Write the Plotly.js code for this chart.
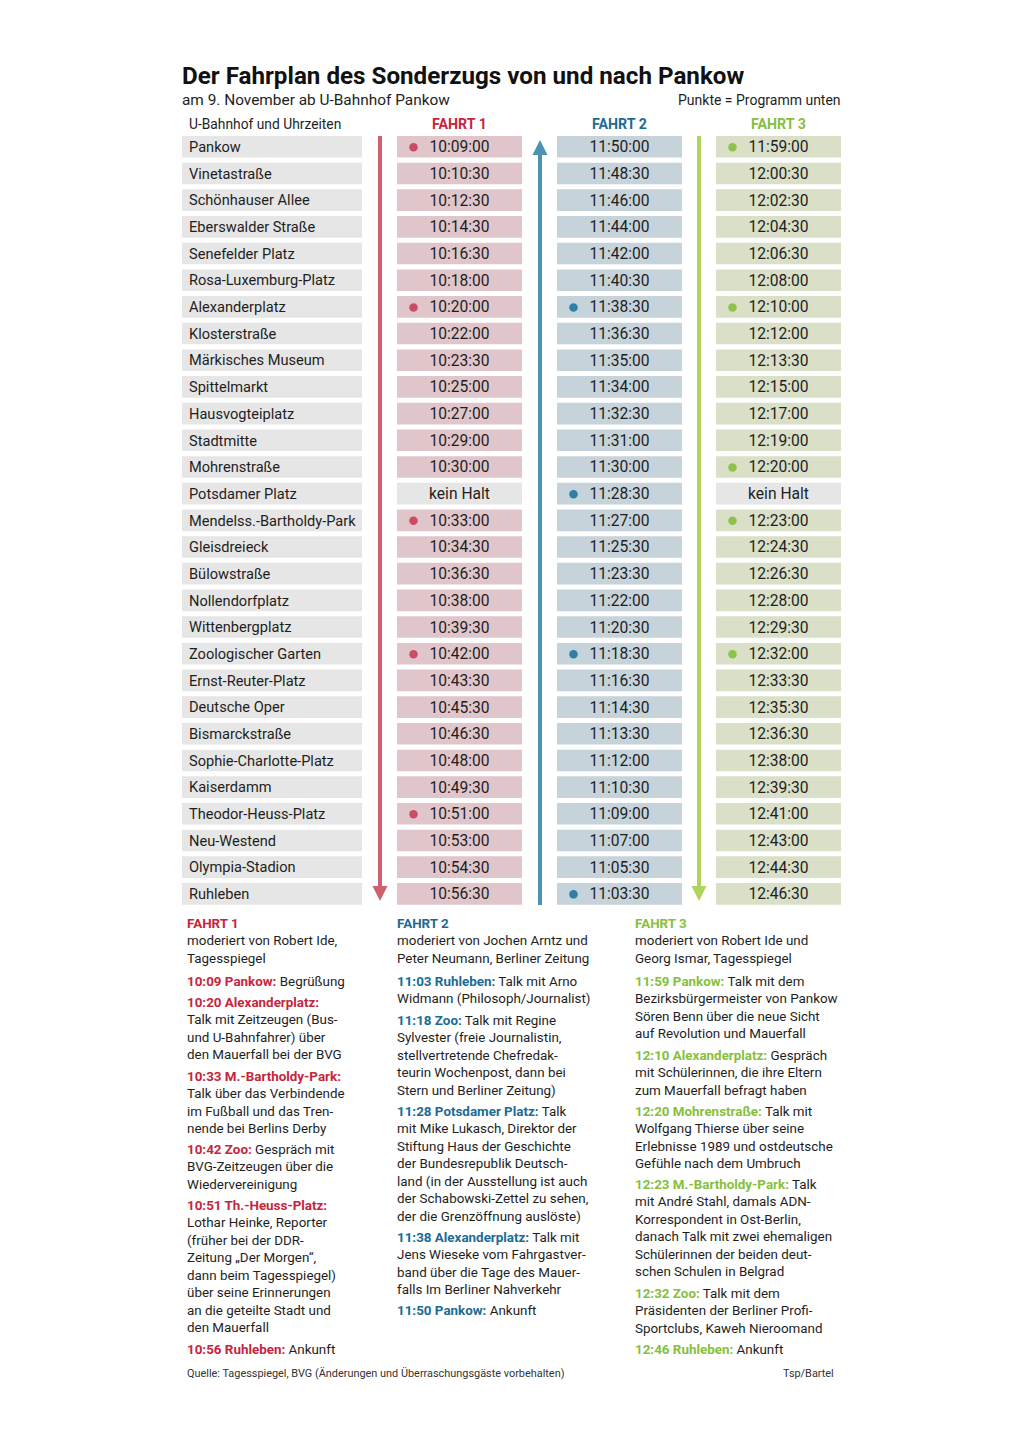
<!DOCTYPE html>
<html><head><meta charset="utf-8">
<script src="https://cdn.plot.ly/plotly-3.0.1.min.js"></script>
<style>html,body{margin:0;padding:0;background:#fff}</style>
</head><body><div id="chart" style="width:1020px;height:1442px"></div>
<script>
// ---------------- DATA ----------------
const stations = ["Pankow","Vinetastraße","Schönhauser Allee","Eberswalder Straße","Senefelder Platz","Rosa-Luxemburg-Platz","Alexanderplatz","Klosterstraße","Märkisches Museum","Spittelmarkt","Hausvogteiplatz","Stadtmitte","Mohrenstraße","Potsdamer Platz","Mendelss.-Bartholdy-Park","Gleisdreieck","Bülowstraße","Nollendorfplatz","Wittenbergplatz","Zoologischer Garten","Ernst-Reuter-Platz","Deutsche Oper","Bismarckstraße","Sophie-Charlotte-Platz","Kaiserdamm","Theodor-Heuss-Platz","Neu-Westend","Olympia-Stadion","Ruhleben"];
const fahrt1 = ["10:09:00","10:10:30","10:12:30","10:14:30","10:16:30","10:18:00","10:20:00","10:22:00","10:23:30","10:25:00","10:27:00","10:29:00","10:30:00","kein Halt","10:33:00","10:34:30","10:36:30","10:38:00","10:39:30","10:42:00","10:43:30","10:45:30","10:46:30","10:48:00","10:49:30","10:51:00","10:53:00","10:54:30","10:56:30"];
const fahrt2 = ["11:50:00","11:48:30","11:46:00","11:44:00","11:42:00","11:40:30","11:38:30","11:36:30","11:35:00","11:34:00","11:32:30","11:31:00","11:30:00","11:28:30","11:27:00","11:25:30","11:23:30","11:22:00","11:20:30","11:18:30","11:16:30","11:14:30","11:13:30","11:12:00","11:10:30","11:09:00","11:07:00","11:05:30","11:03:30"];
const fahrt3 = ["11:59:00","12:00:30","12:02:30","12:04:30","12:06:30","12:08:00","12:10:00","12:12:00","12:13:30","12:15:00","12:17:00","12:19:00","12:20:00","kein Halt","12:23:00","12:24:30","12:26:30","12:28:00","12:29:30","12:32:00","12:33:30","12:35:30","12:36:30","12:38:00","12:39:30","12:41:00","12:43:00","12:44:30","12:46:30"];
const dots1 = ["Pankow","Alexanderplatz","Mendelss.-Bartholdy-Park","Zoologischer Garten","Theodor-Heuss-Platz"];
const dots2 = ["Alexanderplatz","Potsdamer Platz","Zoologischer Garten","Ruhleben"];
const dots3 = ["Pankow","Alexanderplatz","Mohrenstraße","Mendelss.-Bartholdy-Park","Zoologischer Garten"];
const fahrtLabels = ["FAHRT 1","FAHRT 2","FAHRT 3"];
const intro1 = ["FAHRT 1","\nmoderiert von Robert Ide,\nTagesspiegel"];
const intro2 = ["FAHRT 2","\nmoderiert von Jochen Arntz und\nPeter Neumann, Berliner Zeitung"];
const intro3 = ["FAHRT 3","\nmoderiert von Robert Ide und\nGeorg Ismar, Tagesspiegel"];
const notes1 = [
  ["10:09 Pankow:"," Begrüßung"],
  ["10:20 Alexanderplatz:","\nTalk mit Zeitzeugen (Bus-\nund U-Bahnfahrer) über\nden Mauerfall bei der BVG"],
  ["10:33 M.-Bartholdy-Park:","\nTalk über das Verbindende\nim Fußball und das Tren-\nnende bei Berlins Derby"],
  ["10:42 Zoo:"," Gespräch mit\nBVG-Zeitzeugen über die\nWiedervereinigung"],
  ["10:51 Th.-Heuss-Platz:","\nLothar Heinke, Reporter\n(früher bei der DDR-\nZeitung „Der Morgen“,\ndann beim Tagesspiegel)\nüber seine Erinnerungen\nan die geteilte Stadt und\nden Mauerfall"],
  ["10:56 Ruhleben:"," Ankunft"]
];
const notes2 = [
  ["11:03 Ruhleben:"," Talk mit Arno\nWidmann (Philosoph/Journalist)"],
  ["11:18 Zoo:"," Talk mit Regine\nSylvester (freie Journalistin,\nstellvertretende Chefredak-\nteurin Wochenpost, dann bei\nStern und Berliner Zeitung)"],
  ["11:28 Potsdamer Platz:"," Talk\nmit Mike Lukasch, Direktor der\nStiftung Haus der Geschichte\nder Bundesrepublik Deutsch-\nland (in der Ausstellung ist auch\nder Schabowski-Zettel zu sehen,\nder die Grenzöffnung auslöste)"],
  ["11:38 Alexanderplatz:"," Talk mit\nJens Wieseke vom Fahrgastver-\nband über die Tage des Mauer-\nfalls Im Berliner Nahverkehr"],
  ["11:50 Pankow:"," Ankunft"]
];
const notes3 = [
  ["11:59 Pankow:"," Talk mit dem\nBezirksbürgermeister von Pankow\nSören Benn über die neue Sicht\nauf Revolution und Mauerfall"],
  ["12:10 Alexanderplatz:"," Gespräch\nmit Schülerinnen, die ihre Eltern\nzum Mauerfall befragt haben"],
  ["12:20 Mohrenstraße:"," Talk mit\nWolfgang Thierse über seine\nErlebnisse 1989 und ostdeutsche\nGefühle nach dem Umbruch"],
  ["12:23 M.-Bartholdy-Park:"," Talk\nmit André Stahl, damals ADN-\nKorrespondent in Ost-Berlin,\ndanach Talk mit zwei ehemaligen\nSchülerinnen der beiden deut-\nschen Schulen in Belgrad"],
  ["12:32 Zoo:"," Talk mit dem\nPräsidenten der Berliner Profi-\nSportclubs, Kaweh Nieroomand"],
  ["12:46 Ruhleben:"," Ankunft"]
];
const titleText = "Der Fahrplan des Sonderzugs von und nach Pankow";
const subtitleText = "am 9. November ab U-Bahnhof Pankow";
const legendText = "Punkte = Programm unten";
const headerText = "U-Bahnhof und Uhrzeiten";
const sourceText = "Quelle: Tagesspiegel, BVG (Änderungen und Überraschungsgäste vorbehalten)";
const creditText = "Tsp/Bartel";

// ---------------- STYLE / GEOMETRY ----------------
const W = 1020, H = 1442;
const FONT = 'Roboto, "Noto Sans", "DejaVu Sans", sans-serif';
const TXT = '#1e1e1e';
const X = p => p / W, Y = p => 1 - p / H;
const rowTop = 146.8, pitch = 26.68, nRows = stations.length;
const yTopPx = rowTop - pitch / 2, yBotPx = rowTop + (nRows - 1) * pitch + pitch / 2;
const tableL = 182, tableR = 841;
const colStation = {base: 0, w: 180};
const cols = [{base: 215, w: 125}, {base: 375, w: 125}, {base: 534, w: 125}];
const cellFill = ['#e0c6cb', '#c6d3da', '#dadfc8'];
const grayFill = '#e6e6e6';
const dotColor = ['#cc4d63', '#2f7fa6', '#8dc24c'];
const lineColor = ['#d0606f', '#4b93b1', '#afd35b'];
const headColor = ['#c4263d', '#1c6b93', '#86c03c'];
const barW = 0.81;
const rows = stations.map((s, i) => i);
const textShift = 1.6 / pitch;          // nudge cell text to optical centre
const textRows = rows.map(r => r + textShift);
const times = [fahrt1, fahrt2, fahrt3];
const dots = [dots1, dots2, dots3];

const traces = [];
// station cells
traces.push({type: 'bar', orientation: 'h', y: rows, x: rows.map(() => colStation.w), base: colStation.base,
  width: barW, marker: {color: grayFill, line: {width: 0}}, hoverinfo: 'skip', showlegend: false});
// time cells
times.forEach((t, k) => {
  traces.push({type: 'bar', orientation: 'h', y: rows, x: t.map(() => cols[k].w), base: cols[k].base,
    width: barW, marker: {color: t.map(v => v === 'kein Halt' ? grayFill : cellFill[k]), line: {width: 0}},
    hoverinfo: 'skip', showlegend: false});
});
// station names
traces.push({type: 'scatter', mode: 'text', y: textRows, x: rows.map(() => colStation.base + 7), text: stations,
  textposition: 'middle right', textfont: {family: FONT, size: 14.6, color: TXT}, hoverinfo: 'skip', showlegend: false, cliponaxis: false});
// times
times.forEach((t, k) => {
  traces.push({type: 'scatter', mode: 'text', y: textRows, x: rows.map(() => cols[k].base + cols[k].w / 2), text: t,
    textposition: 'middle center', textfont: {family: FONT, size: 15.6, color: TXT}, hoverinfo: 'skip', showlegend: false, cliponaxis: false});
});
// dots
dots.forEach((d, k) => {
  const ys = stations.map((s, i) => d.includes(s) ? i : null).filter(v => v !== null);
  traces.push({type: 'scatter', mode: 'markers', y: ys.map(v => v + 0.02), x: ys.map(() => cols[k].base + 16.5),
    marker: {size: 8.5, color: dotColor[k]}, hoverinfo: 'skip', showlegend: false, cliponaxis: false});
});
// direction arrows (lines + heads)
const arrowX = [198, 358, 517];
const pxRow = p => (p - rowTop) / pitch;
traces.push({type: 'scatter', mode: 'lines', x: [arrowX[0], arrowX[0]], y: [pxRow(136), pxRow(888)],
  line: {color: lineColor[0], width: 4}, hoverinfo: 'skip', showlegend: false, cliponaxis: false});
traces.push({type: 'scatter', mode: 'markers', x: [arrowX[0]], y: [pxRow(901)],
  marker: {symbol: 'arrow-down', size: 15, color: lineColor[0]}, hoverinfo: 'skip', showlegend: false, cliponaxis: false});
traces.push({type: 'scatter', mode: 'lines', x: [arrowX[1], arrowX[1]], y: [pxRow(905), pxRow(153)],
  line: {color: lineColor[1], width: 4}, hoverinfo: 'skip', showlegend: false, cliponaxis: false});
traces.push({type: 'scatter', mode: 'markers', x: [arrowX[1]], y: [pxRow(140)],
  marker: {symbol: 'arrow-up', size: 15, color: lineColor[1]}, hoverinfo: 'skip', showlegend: false, cliponaxis: false});
traces.push({type: 'scatter', mode: 'lines', x: [arrowX[2], arrowX[2]], y: [pxRow(136), pxRow(888)],
  line: {color: lineColor[2], width: 4}, hoverinfo: 'skip', showlegend: false, cliponaxis: false});
traces.push({type: 'scatter', mode: 'markers', x: [arrowX[2]], y: [pxRow(901)],
  marker: {symbol: 'arrow-down', size: 15, color: lineColor[2]}, hoverinfo: 'skip', showlegend: false, cliponaxis: false});

// ---------------- ANNOTATIONS ----------------
const ann = [];
const txt = (text, xp, yp, size, opts = {}) => ann.push(Object.assign({
  text, x: X(xp), y: Y(yp), xref: 'paper', yref: 'paper', showarrow: false,
  xanchor: 'left', yanchor: 'middle', align: 'left', borderpad: 0,
  font: {family: FONT, size, color: TXT}}, opts));

txt('<b>' + titleText + '</b>', 181, 76, 24.2, {font: {family: FONT, size: 24.2, color: '#111'}});
txt(subtitleText, 181, 100, 15.4);
txt(legendText, 842, 100, 14, {xanchor: 'right'});
txt(headerText, 188, 124, 13.8);
fahrtLabels.forEach((l, k) => txt('<b>' + l + '</b>', tableL + cols[k].base + cols[k].w / 2, 124, 14.2,
  {xanchor: 'center', font: {family: FONT, size: 14.2, color: headColor[k]}}));

const LH = 17.5, GAP = 3.5, NFS = 13.4;
const noteCols = [{x: 186, intro: intro1, notes: notes1}, {x: 396, intro: intro2, notes: notes2}, {x: 634, intro: intro3, notes: notes3}];
noteCols.forEach((c, k) => {
  const addPara = (p, firstCenter) => {
    const nLines = 1 + (p[1].match(/\n/g) || []).length;
    const html = '<span style="color:' + headColor[k] + '"><b>' + p[0] + '</b></span>' + p[1].replace(/\n/g, '<br>');
    txt(html, c.x, firstCenter + (nLines - 1) * LH / 2, NFS);
    return nLines;
  };
  addPara(c.intro, 923.5);
  let y = 981.5;
  c.notes.forEach(p => { const n = addPara(p, y); y += n * LH + GAP; });
});
txt(sourceText, 186, 1373, 10.9, {font: {family: FONT, size: 10.9, color: '#333'}});
txt(creditText, 835, 1373, 10.9, {xanchor: 'right', font: {family: FONT, size: 10.9, color: '#333'}});

const layout = {
  width: W, height: H, margin: {l: 0, r: 0, t: 0, b: 0},
  paper_bgcolor: '#fff', plot_bgcolor: 'rgba(0,0,0,0)',
  barmode: 'overlay', showlegend: false,
  xaxis: {domain: [X(tableL), X(tableR)], range: [0, tableR - tableL], visible: false, fixedrange: true},
  yaxis: {domain: [Y(yBotPx), Y(yTopPx)], range: [nRows - 0.5, -0.5], visible: false, fixedrange: true},
  annotations: ann,
  font: {family: FONT}
};
Plotly.newPlot('chart', traces, layout, {displayModeBar: false, staticPlot: true});
</script></body></html>
